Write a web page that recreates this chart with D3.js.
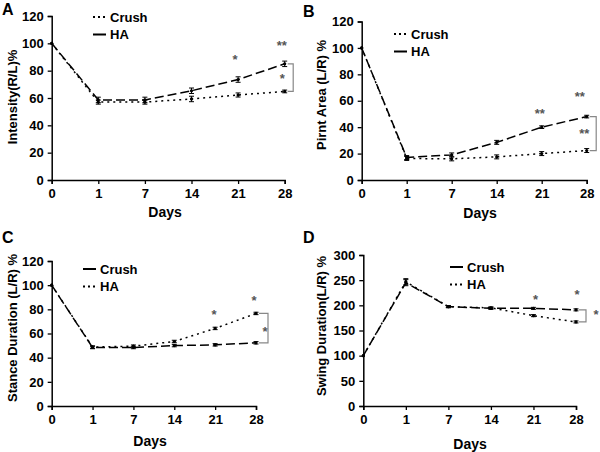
<!DOCTYPE html>
<html><head><meta charset="utf-8">
<script src="https://cdn.jsdelivr.net/npm/d3@7"></script>
<style>body{margin:0;background:#fff}svg{display:block}text{font-family:"Liberation Sans",Arial,sans-serif;font-weight:bold}</style>
</head><body><svg id="c" width="600" height="452"></svg>
<script>
const days = ["0","1","7","14","21","28"];

const crushA = [100, 57, 57, 59.3, 62.2, 64.8];
const haA    = [100, 58.6, 58.6, 65.3, 73.5, 85];
const crushAErr = [0, 1.5, 1.5, 2, 1.5, 1];
const haAErr    = [0, 2, 2, 2, 2, 2];

const crushB = [100, 16.3, 16, 17.5, 20, 22.3];
const haB    = [100, 17, 19, 28.5, 40, 48];
const crushBErr = [0, 1.5, 1.5, 1.5, 1.5, 1.5];
const haBErr    = [0, 1.5, 1.5, 1.5, 1, 1];

const crushC = [100, 48.4, 48.4, 50, 50.6, 52.3];
const haC    = [100, 48.8, 49.5, 53.4, 64.2, 76.6];
const crushCErr = [0, 1, 1, 1, 1, 1];
const haCErr    = [0, 1, 1, 1, 1, 1];

const crushD = [100, 245, 197.4, 194, 194, 191];
const haD    = [100, 247, 197.4, 195, 179.5, 167];
const crushDErr = [0, 6, 2, 2, 2, 2];
const haDErr    = [0, 6, 2, 2, 2, 2];

const yTicksA = [0,20,40,60,80,100,120];
const yTicksD = [0,50,100,150,200,250,300];

const starsA = [{day:"21", v:90, t:"*"}, {day:"28", v:100.5, t:"**"}];
const starsB = [{day:"21", v:52, t:"**"}, {day:"28", v:65, t:"**"}];
const starsC = [{day:"21", v:77.8, t:"*"}, {day:"28", v:89.6, t:"*"}];
const starsD = [{day:"21", v:217, t:"*"}, {day:"28", v:227, t:"*"}];

const DOT = "2,4", DASH = "9,4";

const panels = [
  {label:"A", lx:2, ly:15, x0:51.7, x1:284.7, y0:180, y1:16, ymax:120, ticks:yTicksA,
   s1:{name:"Crush", v:crushA, e:crushAErr, dash:DOT}, s2:{name:"HA", v:haA, e:haAErr, dash:DASH},
   ytitle:"Intensity(R/L)%", ytx:12, yty:97, xtx:165, xty:217,
   legX:93, legY:17, stars:starsA, starDx:[-3,-3], midStar:{t:"*", v:76, dx:-1}, brX:8.5},
  {label:"B", lx:303, ly:17, x0:361.7, x1:586.7, y0:180, y1:21.5, ymax:120, ticks:yTicksA,
   s1:{name:"Crush", v:crushB, e:crushBErr, dash:DOT}, s2:{name:"HA", v:haB, e:haBErr, dash:DASH},
   ytitle:"Pirnt Area (L/R) %", ytx:321, yty:95, xtx:480, xty:218,
   legX:394, legY:34, stars:starsB, starDx:[-2,-7], midStar:{t:"**", v:37.3, dx:-2}, brX:9.5},
  {label:"C", lx:2, ly:243, x0:51.7, x1:256, y0:406, y1:261, ymax:120, ticks:yTicksA,
   s1:{name:"Crush", v:crushC, e:crushCErr, dash:DASH}, s2:{name:"HA", v:haC, e:haCErr, dash:DOT},
   ytitle:"Stance Duration (L/R) %", ytx:12, yty:328, xtx:150, xty:446,
   legX:83, legY:269, stars:starsC, starDx:[-1,-2], midStar:{t:"*", v:63.5, dx:7}, brX:12},
  {label:"D", lx:303, ly:243, x0:363.3, x1:576, y0:406, y1:255, ymax:300, ticks:yTicksD,
   s1:{name:"Crush", v:crushD, e:crushDErr, dash:DASH}, s2:{name:"HA", v:haD, e:haDErr, dash:DOT},
   ytitle:"Swing Duration(L/R) %", ytx:321, yty:326, xtx:470, xty:449,
   legX:450, legY:267, stars:starsD, starDx:[2,1], midStar:{t:"*", v:187, dx:20}, brX:10}
];

const svg = d3.select("#c");

panels.forEach(p => {
  const g = svg.append("g");
  const x = d3.scalePoint().domain(days).range([p.x0, p.x1]).padding(0);
  const y = d3.scaleLinear().domain([0, p.ymax]).range([p.y0, p.y1]);

  g.append("text").attr("x", p.lx).attr("y", p.ly).attr("font-size", 16).text(p.label);

  const xa = g.append("g").attr("transform", `translate(0,${p.y0})`)
    .call(d3.axisBottom(x).tickSizeOuter(0).tickSize(4).tickPadding(5));
  const ya = g.append("g").attr("transform", `translate(${p.x0},0)`)
    .call(d3.axisLeft(y).tickValues(p.ticks).tickSizeOuter(0).tickSize(4).tickPadding(4));
  [xa, ya].forEach(a => {
    a.select(".domain").attr("stroke", "#000").attr("stroke-width", 1.5);
    a.selectAll(".tick line").attr("stroke", "#000").attr("stroke-width", 1.3);
    a.selectAll("text").attr("font-size", 13).attr("fill", "#000")
      .style("font-family", '"Liberation Sans",Arial,sans-serif').style("font-weight", "bold");
  });

  g.append("text").attr("x", p.xtx).attr("y", p.xty).attr("text-anchor", "middle")
    .attr("font-size", 14).text("Days");
  g.append("text").attr("transform", `translate(${p.ytx},${p.yty}) rotate(-90)`)
    .attr("text-anchor", "middle").attr("dy", "0.35em").attr("font-size", 13).text(p.ytitle);

  const line = d3.line().x((d, i) => x(days[i])).y(d => y(d));
  [p.s1, p.s2].forEach(s => {
    g.append("path").datum(s.v).attr("d", line).attr("fill", "none")
      .attr("stroke", "#000").attr("stroke-width", 1.5).attr("stroke-dasharray", s.dash);
    s.v.forEach((v, i) => {
      const e = s.e[i];
      if (e > 0) {
        const cx = x(days[i]);
        g.append("line").attr("x1", cx).attr("x2", cx).attr("y1", y(v - e)).attr("y2", y(v + e))
          .attr("stroke", "#000").attr("stroke-width", 1);
        [v - e, v + e].forEach(w => g.append("line").attr("x1", cx - 2.5).attr("x2", cx + 2.5)
          .attr("y1", y(w)).attr("y2", y(w)).attr("stroke", "#000").attr("stroke-width", 1));
      }
      g.append("circle").attr("cx", x(days[i])).attr("cy", y(v)).attr("r", 1.6).attr("fill", "#000");
    });
  });

  // legend
  [p.s1, p.s2].forEach((s, i) => {
    const ly = p.legY + i * 17.5;
    g.append("line").attr("x1", p.legX).attr("x2", p.legX + 13).attr("y1", ly).attr("y2", ly)
      .attr("stroke", "#000").attr("stroke-width", 2).attr("stroke-dasharray", s.dash === DOT ? "2,3" : "13,0");
    g.append("text").attr("x", p.legX + 17).attr("y", ly).attr("dy", "0.36em")
      .attr("font-size", 13).text(s.name);
  });

  // significance bracket
  const bx = p.x1 + p.brX;
  const ya1 = y(p.s1.v[5]), ya2 = y(p.s2.v[5]);
  g.append("path").attr("d", `M${p.x1 + 3},${ya1}H${bx}V${ya2}H${p.x1 + 3}`)
    .attr("fill", "none").attr("stroke", "#888").attr("stroke-width", 1.2);

  p.stars.forEach((st, i) => {
    g.append("text").attr("x", x(st.day) + p.starDx[i]).attr("y", y(st.v) + 7)
      .attr("text-anchor", "middle").attr("font-size", 13).attr("font-weight", "normal")
      .attr("fill", "#555").text(st.t);
  });
  g.append("text").attr("x", bx - 10 + p.midStar.dx).attr("y", y(p.midStar.v) + 7)
    .attr("text-anchor", "middle").attr("font-size", 13).attr("font-weight", "normal")
    .attr("fill", "#555").text(p.midStar.t);
});
</script></body></html>
